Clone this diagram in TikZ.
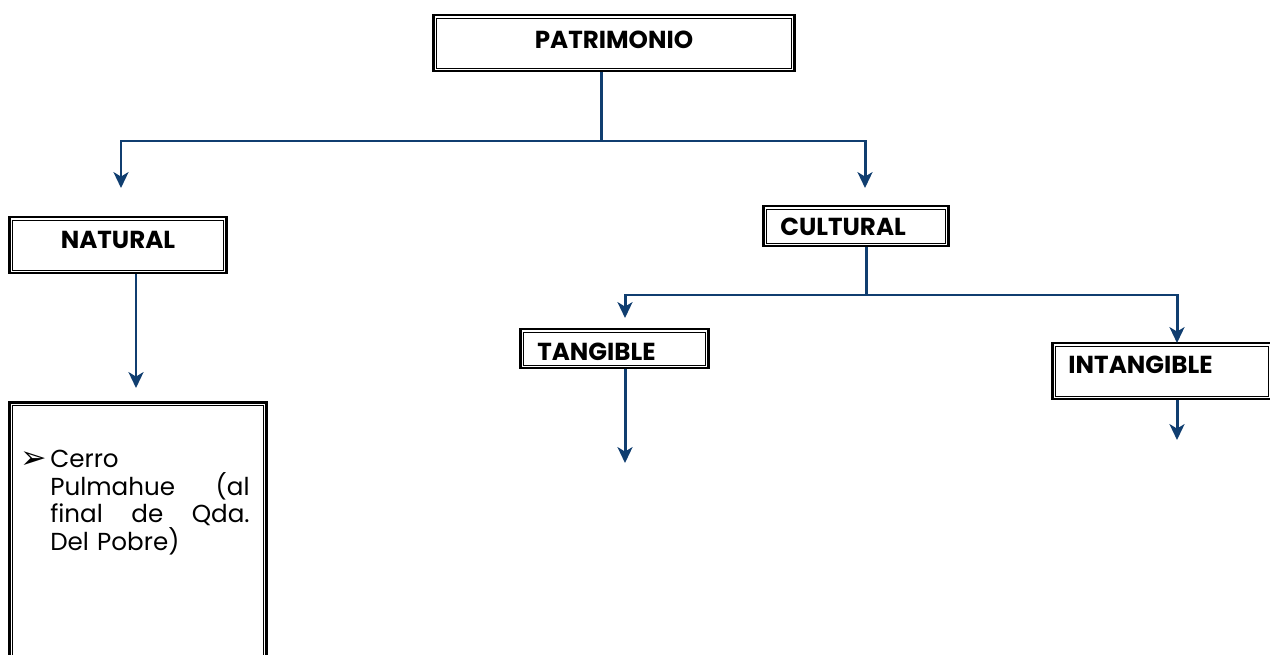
\documentclass[tikz,border=0pt]{standalone}
\usepackage{fontspec}
\setmainfont{Poppins}
\newfontfamily\symfont{DejaVu Sans}
\usetikzlibrary{arrows.meta,positioning,calc}
\definecolor{linkblue}{RGB}{16,62,112}

\begin{document}
\begin{tikzpicture}[x=0.02cm, y=-0.02cm,
    cajon/.style={draw, line width=1.5pt, inner ysep=0pt,
        font=\fontsize{14}{16}\selectfont\bfseries,
        append after command={\pgfextra{\draw[line width=0.5pt]
            ([shift={(2.4pt,-2.4pt)}]\tikzlastnode.north west) rectangle
            ([shift={(-2.4pt,2.4pt)}]\tikzlastnode.south east);}}},
    linea/.style={draw=linkblue, line width=1.7pt},
    flecha/.style={linea, -{Stealth[length=9pt, width=8.5pt, inset=2.5pt]}}]
    \useasboundingbox (0,0) rectangle (1270,655);

    % Boxes
    \node[cajon, minimum width=205.2pt, text width=205.2pt, inner xsep=0pt, align=center,
          text height=18.7pt, text depth=13pt] (patr) at (614,43) {PATRIMONIO};
    \node[cajon, minimum width=123.6pt, text width=123.6pt, inner xsep=0pt, align=center,
          text height=17.6pt, text depth=14.1pt] (natural) at (118,245) {NATURAL};
    \node[cajon, inner xsep=9.6pt, text width=86.2pt, align=left,
          text height=17pt, text depth=5.7pt] (cultural) at (856,226) {CULTURAL};
    \node[cajon, inner xsep=9.6pt, text width=87.9pt, align=left,
          text height=17.6pt, text depth=4.5pt] (tangible) at (614.5,348.5) {TANGIBLE};
    \node[cajon, inner xsep=9.1pt, text width=106.5pt, align=left,
          text height=17pt, text depth=14.7pt] (intangible) at (1162,371) {INTANGIBLE};
    \node[cajon, minimum width=146.3pt, minimum height=151.9pt] (lugares) at (138,536) {};
    \node[anchor=north west, inner sep=0pt, text width=113.4pt, align=left,
          font=\fontsize{14}{15.7}\selectfont] (cerro) at (50,450)
        {\llap{\symfont\fontsize{18}{18}\selectfont\raisebox{-0.5pt}{➢}\hspace{2pt}}Cerro\\
         Pulmahue\hfill(al\\
         final\hfill de\hfill Qda.\\
         Del Pobre)};

    % Connectors
    \coordinate (pjun) at (601,141);
    \coordinate (natin) at (121,188);
    \coordinate (culin) at (865,188);
    \draw[linea] (patr.south -| pjun) -- (pjun);
    \draw[flecha] (pjun) -| (natin);
    \draw[flecha] (pjun) -| (culin);

    \coordinate (natout) at (136,388);
    \draw[flecha] (natural.south -| natout) -- (natout);

    \coordinate (cjun) at (866,295);
    \coordinate (tanin) at (625,318);
    \coordinate (intin) at (1177,343);
    \draw[linea] (cultural.south -| cjun) -- (cjun);
    \draw[flecha] (cjun) -| (tanin);
    \draw[flecha] (cjun) -| (intin);

    \coordinate (tanout) at (625,463);
    \coordinate (intout) at (1177,440);
    \draw[flecha] (tangible.south -| tanout) -- (tanout);
    \draw[flecha] (intangible.south -| intout) -- (intout);
\end{tikzpicture}
\end{document}
